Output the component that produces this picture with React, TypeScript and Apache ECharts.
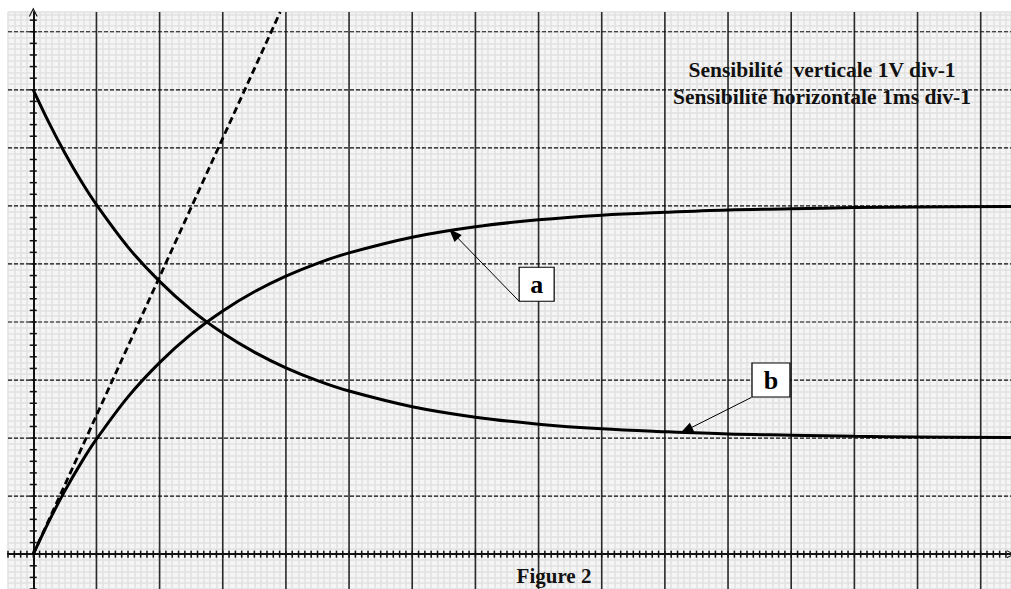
import React, { useEffect, useRef } from "react";
import * as echarts from "echarts";

// ---- data (time in ms, tension in V) ----
const TIME_MS = [0, 0.25, 0.5, 0.75, 1, 1.5, 2, 2.5, 3, 3.5, 4, 4.5, 5, 6, 7, 8, 9, 10, 11, 12, 13, 14, 15.5];
const CURVE_A = [0, 0.57, 1.09, 1.56, 1.98, 2.71, 3.3, 3.79, 4.19, 4.52, 4.79, 5.01, 5.19, 5.46, 5.64, 5.76, 5.84, 5.89, 5.93, 5.95, 5.97, 5.98, 5.99];
const CURVE_B = [8, 7.43, 6.91, 6.44, 6.02, 5.29, 4.7, 4.21, 3.81, 3.48, 3.21, 2.99, 2.81, 2.54, 2.36, 2.24, 2.16, 2.11, 2.07, 2.05, 2.03, 2.02, 2.01];
const TANGENT_T = [0, 3.91];
const TANGENT_V = [0, 9.34];

const MAJOR_X = [1, 2, 3, 4, 5, 6, 7, 8, 9, 10, 11, 12, 13, 14, 15];
const MAJOR_Y = [1, 2, 3, 4, 5, 6, 7, 8, 9];

const LABEL_A = "a";
const LABEL_B = "b";
const BOX_A = [7.97, 4.65];
const ARROW_A = [[7.69, 4.36], [6.655, 5.52]];
const BOX_B = [11.68, 3.0];
const ARROW_B = [[11.37, 2.7], [10.338, 2.136]];

const NOTE_1 = "Sensibilité  verticale 1V div-1";
const NOTE_2 = "Sensibilité horizontale 1ms div-1";
const CAPTION = "Figure 2";

const X_MIN = -0.4;
const X_MAX = 15.48;
const Y_MIN = -0.6;
const Y_MAX = 9.34;

function range(a: number, b: number, step: number): number[] {
  const out: number[] = [];
  const n = Math.round((b - a) / step);
  for (let i = 0; i <= n; i++) out.push(Math.round((a + i * step) * 1000) / 1000);
  return out;
}
const X_TICKS = range(-0.4, 15.4, 0.1);
const Y_TICKS = range(-0.6, 9.2, 0.2);

const SERIF = "'Liberation Serif', 'Times New Roman', serif";
const ARROW_PATH = "path://M0,12 L6,0 L12,12 L10.4,12 L6,3.2 L1.6,12 Z";

export default function App() {
  const ref = useRef<HTMLDivElement>(null);

  useEffect(() => {
    if (!ref.current) return;
    const chart = echarts.init(ref.current, undefined, { renderer: "svg" });

    const pair = (arr: number[]) => arr.map((v) => [v, 0]);

    const option: any = {
      animation: false,
      backgroundColor: "#ffffff",
      grid: {
        left: 8,
        top: 12,
        right: 0,
        bottom: 0,
        show: true,
        backgroundColor: "#f5f5f5",
        borderWidth: 0,
      },
      xAxis: {
        type: "value",
        min: X_MIN,
        max: X_MAX,
        interval: 0.1,
        axisLabel: { show: false },
        axisTick: { show: false },
        axisLine: {
          show: true,
          onZero: true,
          symbol: ["none", ARROW_PATH],
          symbolSize: [8, 8],
          lineStyle: { color: "#111", width: 2 },
        },
        splitLine: { show: true, lineStyle: { color: "#e0e0e0", width: 1.5 } },
      },
      yAxis: {
        type: "value",
        min: Y_MIN,
        max: Y_MAX,
        interval: 0.1,
        axisLabel: { show: false },
        axisTick: { show: false },
        axisLine: {
          show: true,
          onZero: true,
          symbol: ["none", ARROW_PATH],
          symbolSize: [9, 9],
          lineStyle: { color: "#111", width: 2 },
        },
        splitLine: { show: true, lineStyle: { color: "#e0e0e0", width: 1.5 } },
      },
      series: [
        {
          type: "custom",
          name: "majorX",
          silent: true,
          z: 1,
          data: pair(MAJOR_X),
          renderItem: (_p: any, api: any) => {
            const v = api.value(0);
            const t = api.coord([v, Y_MAX]);
            const b = api.coord([v, Y_MIN]);
            return {
              type: "line",
              shape: { x1: t[0], y1: t[1], x2: b[0], y2: b[1] },
              style: { stroke: "#2b2b2b", lineWidth: 1.6 },
            };
          },
        },
        {
          type: "custom",
          name: "majorY",
          silent: true,
          z: 1,
          data: MAJOR_Y.map((v) => [0, v]),
          renderItem: (_p: any, api: any) => {
            const v = api.value(1);
            const l = api.coord([X_MIN, v]);
            const r = api.coord([X_MAX, v]);
            return {
              type: "line",
              shape: { x1: l[0], y1: l[1], x2: r[0], y2: r[1] },
              style: { stroke: "#111", lineWidth: 1.2, lineDash: [4, 2] },
            };
          },
        },
        {
          type: "custom",
          name: "ticksX",
          silent: true,
          z: 2,
          data: pair(X_TICKS),
          renderItem: (_p: any, api: any) => {
            const c = api.coord([api.value(0), 0]);
            return {
              type: "line",
              shape: { x1: c[0], y1: c[1] - 3.5, x2: c[0], y2: c[1] + 3.5 },
              style: { stroke: "#111", lineWidth: 1.5 },
            };
          },
        },
        {
          type: "custom",
          name: "ticksY",
          silent: true,
          z: 2,
          data: Y_TICKS.map((v) => [0, v]),
          renderItem: (_p: any, api: any) => {
            const c = api.coord([0, api.value(1)]);
            return {
              type: "line",
              shape: { x1: c[0] - 3.5, y1: c[1], x2: c[0] + 3.5, y2: c[1] },
              style: { stroke: "#111", lineWidth: 1.5 },
            };
          },
        },
        {
          type: "line",
          name: "tangente",
          silent: true,
          z: 3,
          symbol: "none",
          data: TANGENT_T.map((t, i) => [t, TANGENT_V[i]]),
          lineStyle: { color: "#000", width: 2.8, type: [7, 4] },
        },
        {
          type: "line",
          name: "a",
          silent: true,
          z: 4,
          symbol: "none",
          smooth: 0.35,
          data: TIME_MS.map((t, i) => [t, CURVE_A[i]]),
          lineStyle: { color: "#000", width: 3 },
          markLine: {
            silent: true,
            symbol: ["none", "triangle"],
            symbolSize: [10, 13],
            label: { show: false },
            lineStyle: { color: "#000", width: 1, type: "solid" },
            data: [[{ coord: ARROW_A[0] }, { coord: ARROW_A[1] }]],
          },
          markPoint: {
            silent: true,
            data: [
              {
                coord: BOX_A,
                symbol: "rect",
                symbolSize: [35, 34],
                itemStyle: { color: "#ffffff", borderColor: "#000", borderWidth: 1.2 },
                label: {
                  show: true,
                  position: "inside",
                  formatter: LABEL_A,
                  color: "#000",
                  fontFamily: SERIF,
                  fontWeight: "bold",
                  fontSize: 26,
                },
              },
            ],
          },
        },
        {
          type: "line",
          name: "b",
          silent: true,
          z: 4,
          symbol: "none",
          smooth: 0.35,
          data: TIME_MS.map((t, i) => [t, CURVE_B[i]]),
          lineStyle: { color: "#000", width: 3 },
          markLine: {
            silent: true,
            symbol: ["none", "triangle"],
            symbolSize: [10, 13],
            label: { show: false },
            lineStyle: { color: "#000", width: 1, type: "solid" },
            data: [[{ coord: ARROW_B[0] }, { coord: ARROW_B[1] }]],
          },
          markPoint: {
            silent: true,
            data: [
              {
                coord: BOX_B,
                symbol: "rect",
                symbolSize: [38, 34],
                itemStyle: { color: "#ffffff", borderColor: "#000", borderWidth: 1.2 },
                label: {
                  show: true,
                  position: "inside",
                  formatter: LABEL_B,
                  color: "#000",
                  fontFamily: SERIF,
                  fontWeight: "bold",
                  fontSize: 26,
                },
              },
            ],
          },
        },
      ],
      graphic: [
        {
          type: "text",
          x: 822,
          y: 70,
          z: 10,
          style: {
            text: NOTE_1,
            fill: "#111",
            font: `bold 21.5px ${SERIF}`,
            textAlign: "center",
            textVerticalAlign: "middle",
          },
        },
        {
          type: "text",
          x: 822,
          y: 96.5,
          z: 10,
          style: {
            text: NOTE_2,
            fill: "#111",
            font: `bold 21.5px ${SERIF}`,
            textAlign: "center",
            textVerticalAlign: "middle",
          },
        },
        {
          type: "text",
          x: 554,
          y: 576,
          z: 10,
          style: {
            text: CAPTION,
            fill: "#111",
            font: `bold 21px ${SERIF}`,
            textAlign: "center",
            textVerticalAlign: "middle",
          },
        },
      ],
    };

    chart.setOption(option);
    return () => chart.dispose();
  }, []);

  return (
    <div
      ref={ref}
      style={{ position: "fixed", left: 0, top: 0, width: 1011, height: 589, background: "#fff" }}
    />
  );
}
